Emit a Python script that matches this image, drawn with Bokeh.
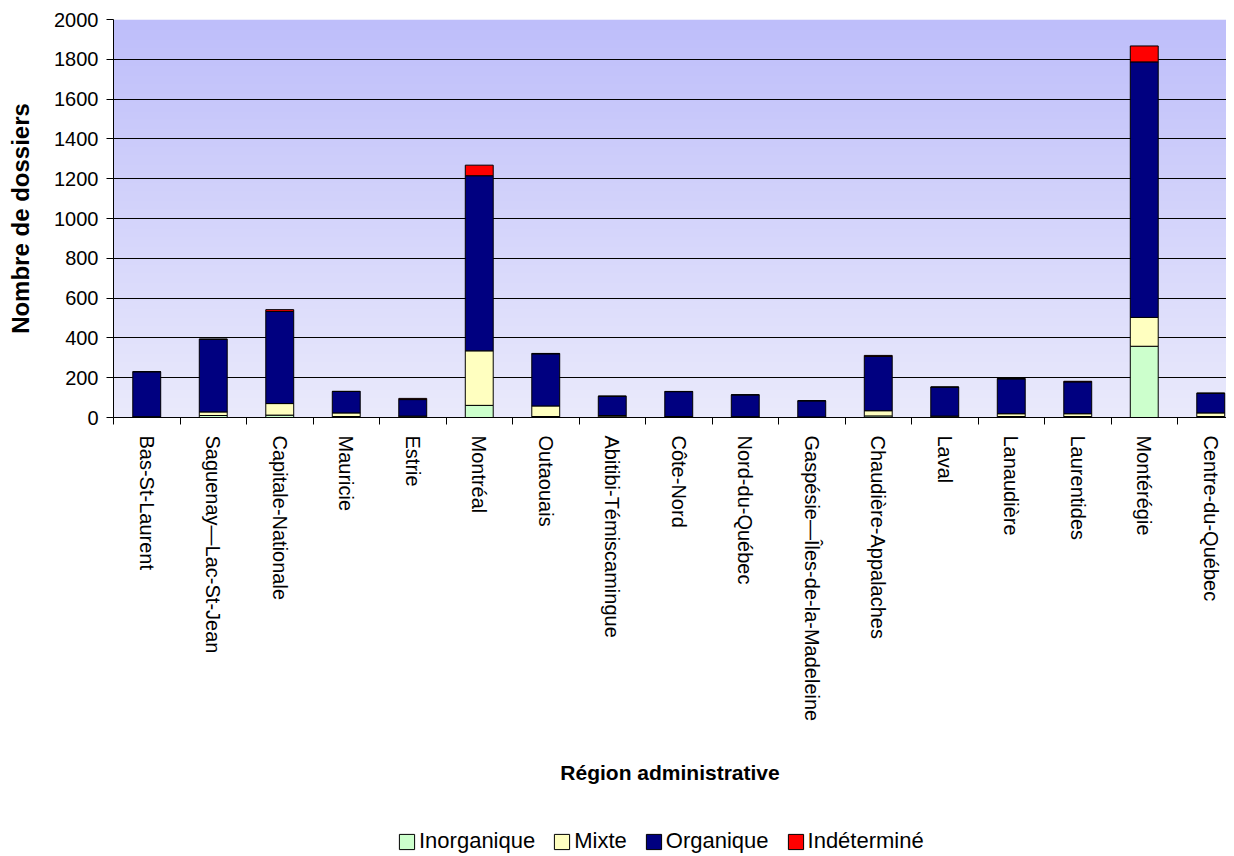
import numpy as np
from bokeh.plotting import figure
from bokeh.layouts import column
from bokeh.models import (Range1d, FixedTicker, Legend, LegendItem,
                          ColumnDataSource)
from bokeh.embed import file_html
from bokeh.resources import INLINE

# ---------------- data ----------------
regions = ["Bas-St-Laurent", "Saguenay\u2014Lac-St-Jean", "Capitale-Nationale",
           "Mauricie", "Estrie", "Montréal", "Outaouais",
           "Abitibi-Témiscamingue", "Côte-Nord", "Nord-du-Québec",
           "Gaspésie\u2014Îles-de-la-Madeleine", "Chaudière-Appalaches",
           "Laval", "Lanaudière", "Laurentides", "Montérégie",
           "Centre-du-Québec"]
inorganique = [2, 10, 12, 5, 3, 61, 5, 4, 2, 2, 1, 8, 3, 5, 5, 358, 5]
mixte = [2, 18, 58, 18, 4, 274, 53, 6, 3, 2, 2, 26, 4, 14, 14, 145, 18]
organique = [226, 364, 463, 108, 83, 880, 262, 97, 125, 110, 81, 273, 146,
             175, 160, 1284, 99]
indetermine = [0, 3, 9, 0, 6, 53, 2, 0, 1, 0, 0, 5, 0, 2, 3, 80, 0]
series_names = ["Inorganique", "Mixte", "Organique", "Indéterminé"]
series_colors = ["#ccffcc", "#ffffc0", "#000080", "#ff0000"]
y_ticks = list(range(0, 2001, 200))

FONT = "Liberation Sans"

n = len(regions)
xs = list(range(n))
src = ColumnDataSource(dict(x=xs, inorg=inorganique, mixte=mixte,
                            org=organique, ind=indetermine))

W, H = 1226, 800
p = figure(width=W, height=H,
           x_range=Range1d(-0.5, -0.5 + 1113 / 66.5),
           y_range=Range1d(0, 2000),
           output_backend="svg", toolbar_location=None,
           min_border_left=113, min_border_top=19, min_border_right=0,
           min_border_bottom=383)
p.outline_line_color = None
p.background_fill_color = "white"
p.border_fill_color = "white"

# vertical gradient background of plot area
ny = 200
top = np.array([190, 190, 250])
bot = np.array([234, 234, 252])
t = np.linspace(0, 1, ny)[:, None]
cols = (bot * (1 - t) + top * t).astype(np.uint32)
img = np.empty((ny, 1), dtype=np.uint32)
view = img.view(dtype=np.uint8).reshape((ny, 1, 4))
view[:, 0, 0] = cols[:, 0]
view[:, 0, 1] = cols[:, 1]
view[:, 0, 2] = cols[:, 2]
view[:, 0, 3] = 255
p.image_rgba(image=[img], x=-0.5, y=0, dw=20, dh=2000, level="image")

renderers = p.vbar_stack(["inorg", "mixte", "org", "ind"], x="x", width=0.42,
                         source=src, fill_color=series_colors,
                         line_color="black", line_width=1)

# grid
p.xgrid.visible = False
p.ygrid.ticker = FixedTicker(ticks=y_ticks)
p.ygrid.grid_line_color = "black"
p.ygrid.grid_line_width = 1

# y axis
ya = p.yaxis[0]
ya.ticker = FixedTicker(ticks=y_ticks)
ya.axis_line_color = "black"
ya.major_tick_line_color = "black"
ya.major_tick_out = 7
ya.major_tick_in = 0
ya.minor_tick_line_color = None
ya.major_label_text_font = FONT
ya.major_label_text_font_size = "20px"
ya.major_label_text_color = "black"
ya.major_label_standoff = 8
ya.axis_label = "Nombre de dossiers"
ya.axis_label_text_font = FONT
ya.axis_label_text_font_size = "24px"
ya.axis_label_text_font_style = "bold"
ya.axis_label_text_color = "black"
ya.axis_label_standoff = 17

# x axis
xa = p.xaxis[0]
xa.ticker = FixedTicker(ticks=xs, minor_ticks=[i - 0.5 for i in range(n + 1)])
xa.major_label_overrides = {i: r for i, r in enumerate(regions)}
xa.major_label_orientation = "vertical"
xa.axis_line_color = "black"
xa.major_tick_out = 0
xa.major_tick_in = 0
xa.minor_tick_line_color = "black"
xa.minor_tick_out = 7
xa.minor_tick_in = 0
xa.major_label_text_font = FONT
xa.major_label_text_font_size = "20px"
xa.major_label_text_color = "black"
xa.major_label_standoff = 11
xa.axis_label = "Région administrative"
xa.axis_label_text_font = FONT
xa.axis_label_text_font_size = "21px"
xa.axis_label_text_font_style = "bold"
xa.axis_label_text_color = "black"
xa.axis_label_standoff = 37

# ---------------- legend strip ----------------
lg = figure(width=W, height=56, x_range=Range1d(0, 1), y_range=Range1d(0, 1),
            output_backend="svg", toolbar_location=None,
            x_axis_location=None, y_axis_location=None, min_border=0)
lg.outline_line_color = None
lg.grid.visible = False
lg.background_fill_color = "white"
lg.border_fill_color = "white"
# tiny swatch renderers hidden behind the opaque legend box (legend keys only)
dummy = [lg.vbar(x=[0.44], top=[0.34], bottom=[0.30], width=0.004,
                 fill_color=c, line_color="black")
         for c in series_colors]
items = [LegendItem(label=nm, renderers=[r]) for nm, r in zip(series_names, dummy)]
legend = Legend(items=items, orientation="horizontal", location=(284, 2),
                label_text_font=FONT, label_text_font_size="22px",
                label_text_color="black", glyph_width=19, glyph_height=19,
                label_standoff=3, spacing=17, padding=0, margin=0,
                border_line_color=None, background_fill_color="white",
                background_fill_alpha=1)
lg.add_layout(legend, "center")

layout = column(p, lg, spacing=0)
open("out.html", "w").write(file_html(layout, INLINE))
